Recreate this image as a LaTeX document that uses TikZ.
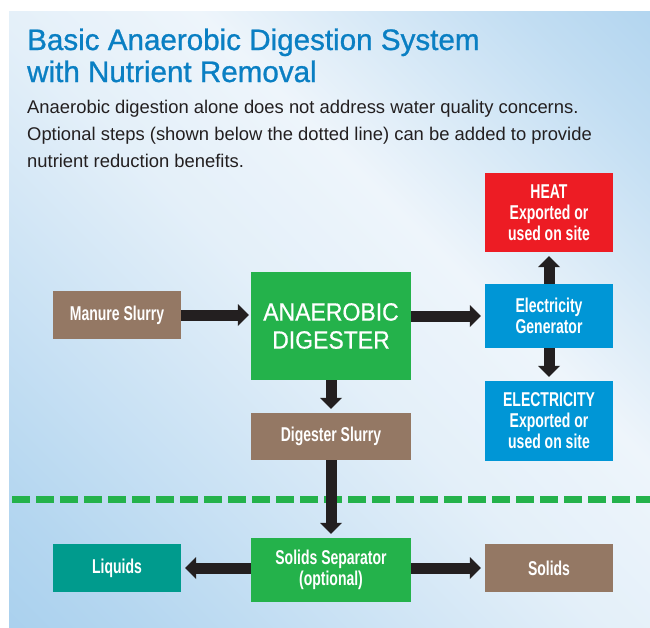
\documentclass[tikz,border=0pt]{standalone}
\usepackage{fontspec}
\setmainfont{Liberation Sans}
\newfontfamily\condfont{Liberation Sans}[FakeStretch=0.70]
\newfontfamily\digfont{Liberation Sans}[FakeStretch=0.92,FakeBold=0.6]
\newfontfamily\titlefont{Liberation Sans}[FakeBold=0.9]
\usetikzlibrary{arrows.meta}
\definecolor{bgblue}{HTML}{96C6EA}
\definecolor{bglight}{HTML}{EEF5FB}
\definecolor{titleblue}{HTML}{0A7FC3}
\definecolor{bodytext}{HTML}{231F20}
\definecolor{brownbox}{HTML}{947864}
\definecolor{greenbox}{HTML}{24B24B}
\definecolor{redbox}{HTML}{ED1C24}
\definecolor{bluebox}{HTML}{0096D6}
\definecolor{tealbox}{HTML}{009B8D}
\definecolor{arrowc}{HTML}{231F20}
\pgfdeclareverticalshading{panelshade}{100bp}{%
  color(0bp)=(bgblue); color(22bp)=(bgblue!65!bglight);
  color(48bp)=(bglight!88!bgblue); color(60bp)=(bglight);
  color(78bp)=(bgblue!50!bglight); color(100bp)=(bgblue)}
\begin{document}
\begin{tikzpicture}[x=1pt,y=-1pt,
  box/.style={inner sep=0pt, align=center, text=white,
    font=\condfont\bfseries\fontsize{20}{21}\selectfont},
  smallbox/.style={box, minimum width=128pt, minimum height=48pt},
  widebox/.style={box, minimum width=160pt},
  sidebox/.style={box, minimum width=128pt},
  flow/.style={line width=11pt, draw=arrowc,
    -{Triangle[width=22pt,length=11pt,line width=0pt]}, shorten >=4pt},
  titletext/.style={anchor=base west, inner sep=0pt, text=titleblue,
    font=\titlefont\fontsize{29.6}{32}\selectfont},
  bodyline/.style={anchor=base west, inner sep=0pt, text=bodytext,
    font=\fontsize{18.4}{27}\selectfont}]
\useasboundingbox (0,0) rectangle (650,627);
\fill[white] (0,0) rectangle (650,627);
\shade[shading=panelshade, shading angle=-45] (9,11) rectangle (650,627);

% title and text
\node[titletext] (title1) at (27,50) {Basic Anaerobic Digestion System};
\node[titletext] (title2) at (27,82) {with Nutrient Removal};
\node[bodyline] (body1) at (27,113) {Anaerobic digestion alone does not address water quality concerns.};
\node[bodyline] (body2) at (27,140) {Optional steps (shown below the dotted line) can be added to provide};
\node[bodyline] (body3) at (27,167) {nutrient reduction benefits.};

% boxes
\node[smallbox, fill=brownbox] (manure) at (117,315) {Manure Slurry};
\node[widebox, fill=greenbox, minimum height=108pt, text=white,
  font=\digfont\fontsize{25}{28}\selectfont] (digester) at (331,326) {ANAEROBIC\\DIGESTER};
\node[widebox, fill=brownbox, minimum height=47pt] (slurry) at (331,436.5) {Digester Slurry};
\node[sidebox, fill=redbox, minimum height=79pt] (heat) at (549,212.5) {HEAT\\Exported or\\used on site};
\node[sidebox, fill=bluebox, minimum height=64pt] (gen) at (549,316) {Electricity\\Generator};
\node[sidebox, fill=bluebox, minimum height=80pt] (elec) at (549,421) {ELECTRICITY\\Exported or\\used on site};
\node[smallbox, fill=tealbox] (liquids) at (117,568) {Liquids};
\node[widebox, fill=greenbox, minimum height=64pt] (sep) at (331,570) {Solids Separator\\(optional)};
\node[smallbox, fill=brownbox] (solids) at (549,568) {Solids};

% dotted divider
\coordinate (divL) at (12,499);
\coordinate (divR) at (650,499);
\draw[greenbox, line width=7pt, dash pattern=on 18pt off 6pt] (divL) -- (divR);

% arrows
\draw[flow, shorten >=2pt] (manure.east) -- (manure.east -| digester.west);
\draw[flow] (gen.west -| digester.east) -- (gen.west);
\draw[flow] (gen.north) -- (heat.south);
\draw[flow] (gen.south) -- (elec.north);
\draw[flow] (digester.south) -- (slurry.north);
\draw[flow] (slurry.south) -- (sep.north);
\draw[flow] (liquids.east -| sep.west) -- (liquids.east);
\draw[flow] (solids.west -| sep.east) -- (solids.west);
\end{tikzpicture}
\end{document}
